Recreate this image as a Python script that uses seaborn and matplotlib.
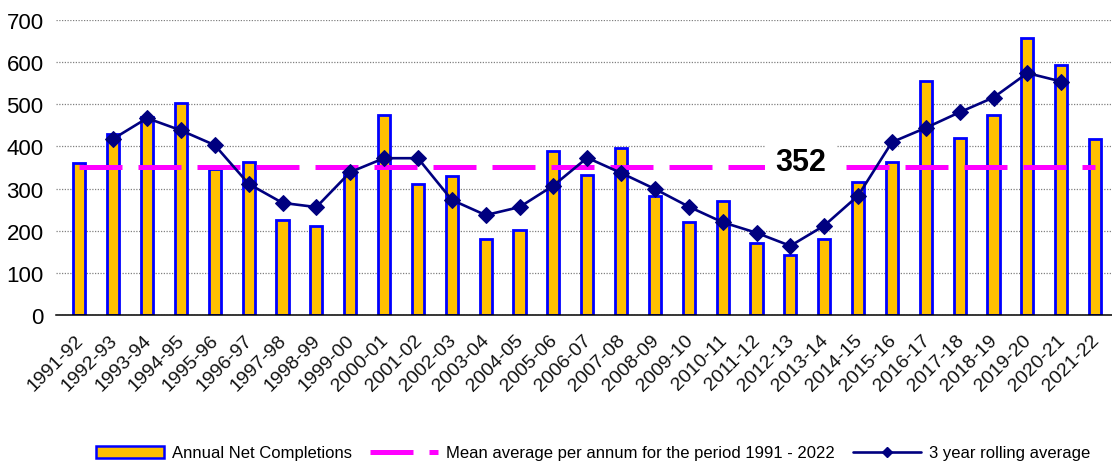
import matplotlib
matplotlib.use("Agg")
import matplotlib.pyplot as plt
import numpy as np
import pandas as pd
import seaborn as sns
from matplotlib.patches import Patch
from matplotlib.lines import Line2D

# data
years = ["1991-92", "1992-93", "1993-94", "1994-95", "1995-96", "1996-97",
         "1997-98", "1998-99", "1999-00", "2000-01", "2001-02", "2002-03",
         "2003-04", "2004-05", "2005-06", "2006-07", "2007-08", "2008-09",
         "2009-10", "2010-11", "2011-12", "2012-13", "2013-14", "2014-15",
         "2015-16", "2016-17", "2017-18", "2018-19", "2019-20", "2020-21",
         "2021-22"]
completions = [360, 429, 470, 502, 346, 362, 226, 211, 332, 475, 311, 329,
               181, 201, 388, 333, 397, 282, 220, 270, 171, 143, 180, 315,
               363, 556, 419, 475, 657, 592, 418]
rolling_avg = [np.nan, 418, 467, 438, 403, 311, 266, 256, 339, 372, 372, 273,
               237, 256, 307, 373, 337, 299, 257, 220, 195, 164, 212, 283,
               410, 444, 481, 516, 574, 554, np.nan]
mean_value = 352

bar_label = "Annual Net Completions"
mean_label = "Mean average per annum for the period 1991 - 2022"
roll_label = "3 year rolling average"

df = pd.DataFrame({"year": years, "completions": completions,
                   "rolling": rolling_avg})
df["pos"] = np.arange(len(df))

sns.set_style("white")
plt.rcParams["font.family"] = ["Liberation Sans", "DejaVu Sans"]
plt.rcParams["text.color"] = "black"
plt.rcParams["xtick.color"] = "black"
plt.rcParams["ytick.color"] = "black"

fig = plt.figure(figsize=(11.12, 4.64), dpi=100)
ax = fig.add_axes([0.0504, 0.319, 0.9496, 0.6358])

bar_fill = "#FFC000"
bar_edge = "#0000FF"
mean_col = "#FF00FF"
roll_col = "#000080"

sns.barplot(data=df, x="year", y="completions", color=bar_fill, saturation=1,
            width=0.36, edgecolor=bar_edge, linewidth=2.0, ax=ax, zorder=2)

n = len(df)
ax.plot([0, n - 1], [mean_value, mean_value], color=mean_col, lw=3.6,
        linestyle=(0, (8.6, 3.2)), zorder=3)

sns.lineplot(data=df.dropna(), x="pos", y="rolling", color=roll_col, lw=1.9,
             marker="D", markersize=8, markeredgecolor=roll_col, ax=ax,
             zorder=5, legend=False)

ax.text(21.3, 362, str(mean_value), fontsize=22, fontweight="bold",
        color="black", ha="center", va="center", zorder=4,
        bbox=dict(facecolor="white", edgecolor="none", pad=7))

ax.set_ylim(0, 700)
ax.set_xlim(-0.689, 30.28)
ax.set_yticks(range(0, 701, 100))
ax.yaxis.grid(True, color="#808080", lw=0.9, linestyle=(0, (1, 1.2)))
ax.set_axisbelow(True)

ax.set_xticks(range(n))
ax.set_xticklabels(years, rotation=45, ha="right", va="center_baseline",
                   rotation_mode="anchor", fontsize=14, color="#111111")
ax.set_xticks(np.arange(-0.5, n, 1), minor=True)
ax.tick_params(axis="x", which="major", length=0, pad=15)
ax.tick_params(axis="x", which="minor", length=4, width=1, color="black",
               direction="out")
ax.tick_params(axis="y", length=0, labelsize=16, pad=9)

for s in ["top", "right", "left"]:
    ax.spines[s].set_visible(False)
ax.spines["bottom"].set_color("black")
ax.spines["bottom"].set_linewidth(1.1)
ax.set_xlabel("")
ax.set_ylabel("")

handles = [
    Patch(facecolor=bar_fill, edgecolor=bar_edge, linewidth=1.8),
    Line2D([], [], color=mean_col, lw=3.6, linestyle=(0, (8.6, 3.2))),
    Line2D([], [], color=roll_col, lw=1.9, marker="D", markersize=5),
]
fig.legend(handles, [bar_label, mean_label, roll_label], loc="center",
           bbox_to_anchor=(593 / 1112, 1 - 454 / 464), ncol=3, frameon=False,
           fontsize=12, handlelength=4.1, handletextpad=0.45,
           columnspacing=1.1, borderpad=0.2)

fig.savefig("out.png", dpi=100)
